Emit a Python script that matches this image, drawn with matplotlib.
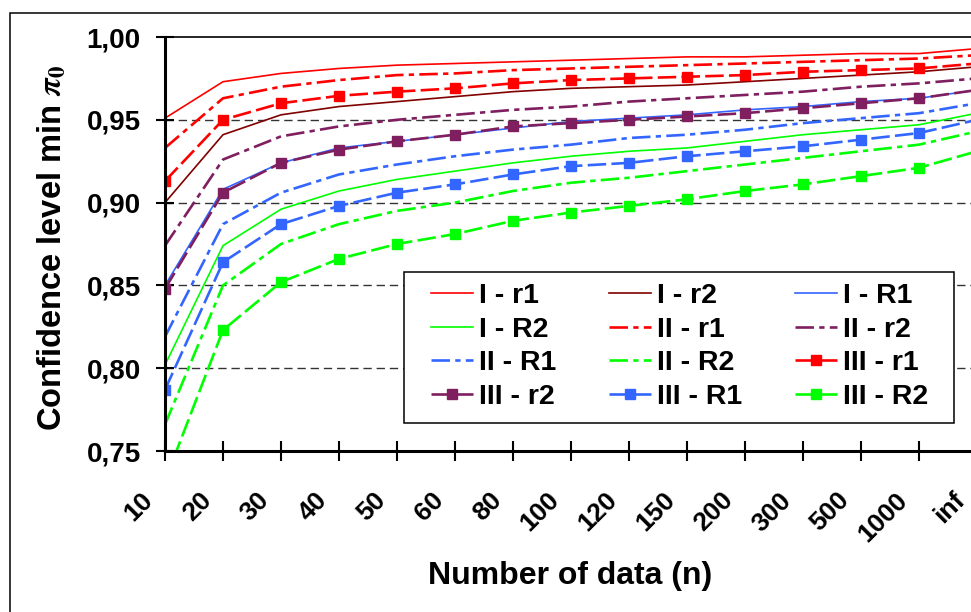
import matplotlib
matplotlib.use("Agg")
import matplotlib.pyplot as plt
from matplotlib.patches import Rectangle
from matplotlib.transforms import ScaledTranslation, blended_transform_factory

plt.rcParams['font.family'] = ['Liberation Sans', 'DejaVu Sans']
plt.rcParams['font.weight'] = 'bold'
plt.rcParams['mathtext.fontset'] = 'stix'

# categories on the x axis (number of data)
n_labels = ['10', '20', '30', '40', '50', '60', '80', '100', '120', '150',
            '200', '300', '500', '1000', 'inf']

# confidence level min pi0
I_r1 = [0.951, 0.973, 0.978, 0.981, 0.983, 0.984, 0.985, 0.986, 0.987, 0.988, 0.988, 0.989, 0.990, 0.990, 0.993]
I_r2 = [0.900, 0.941, 0.953, 0.958, 0.961, 0.964, 0.967, 0.969, 0.970, 0.971, 0.973, 0.975, 0.977, 0.979, 0.982]
I_R1 = [0.850, 0.908, 0.924, 0.933, 0.937, 0.941, 0.945, 0.949, 0.951, 0.953, 0.956, 0.958, 0.961, 0.963, 0.968]
I_R2 = [0.802, 0.874, 0.896, 0.907, 0.914, 0.919, 0.924, 0.928, 0.931, 0.933, 0.937, 0.941, 0.944, 0.947, 0.954]
II_r1 = [0.933, 0.963, 0.970, 0.974, 0.977, 0.978, 0.980, 0.981, 0.982, 0.983, 0.984, 0.985, 0.986, 0.987, 0.989]
II_r2 = [0.874, 0.926, 0.940, 0.946, 0.950, 0.953, 0.956, 0.958, 0.961, 0.963, 0.965, 0.967, 0.970, 0.972, 0.975]
II_R1 = [0.819, 0.887, 0.906, 0.917, 0.923, 0.928, 0.932, 0.935, 0.939, 0.941, 0.944, 0.948, 0.951, 0.954, 0.960]
II_R2 = [0.766, 0.850, 0.875, 0.887, 0.895, 0.900, 0.907, 0.912, 0.915, 0.919, 0.923, 0.927, 0.931, 0.935, 0.943]
III_r1 = [0.913, 0.950, 0.960, 0.9645, 0.967, 0.969, 0.972, 0.974, 0.975, 0.976, 0.977, 0.979, 0.980, 0.981, 0.984]
III_r2 = [0.848, 0.906, 0.924, 0.932, 0.937, 0.941, 0.946, 0.948, 0.950, 0.952, 0.954, 0.957, 0.960, 0.963, 0.968]
III_R1 = [0.787, 0.864, 0.887, 0.898, 0.906, 0.911, 0.917, 0.922, 0.924, 0.928, 0.931, 0.934, 0.938, 0.942, 0.950]
III_R2 = [0.732, 0.823, 0.852, 0.866, 0.875, 0.881, 0.889, 0.894, 0.898, 0.902, 0.907, 0.911, 0.916, 0.921, 0.931]

y_ticks = [0.75, 0.80, 0.85, 0.90, 0.95, 1.00]

# styles
RED = '#ff0000'
DARKRED = '#800000'
BLUE = '#3366ff'
GREEN = '#00ff00'
PURPLE = '#7f1f5f'
SOLID = dict(ls='-', lw=1.2)
DASHDOT = dict(ls=(0, (7, 2, 2, 2)), lw=1.9)
DASHSQ = dict(ls=(0, (7, 2)), lw=1.9, marker='s', ms=7)

series = [
    ('I - r1', I_r1, RED, SOLID),
    ('I - r2', I_r2, DARKRED, SOLID),
    ('I - R1', I_R1, BLUE, SOLID),
    ('I - R2', I_R2, GREEN, SOLID),
    ('II - r1', II_r1, RED, DASHDOT),
    ('II - r2', II_r2, PURPLE, DASHDOT),
    ('II - R1', II_R1, BLUE, DASHDOT),
    ('II - R2', II_R2, GREEN, DASHDOT),
    ('III - r1', III_r1, RED, DASHSQ),
    ('III - r2', III_r2, PURPLE, DASHSQ),
    ('III - R1', III_R1, BLUE, DASHSQ),
    ('III - R2', III_R2, GREEN, DASHSQ),
]

W, H = 971, 612
fig = plt.figure(figsize=(W / 100, H / 100), dpi=100)
# plot area in pixels: left 165, right 977, top 37, bottom 451
ax = fig.add_axes([165 / W, 1 - 451 / H, 812 / W, 414 / H])

x = list(range(len(n_labels)))
handles = []
for name, vals, color, st in series:
    h, = ax.plot(x, vals, color=color, label=name, mec=color, mfc=color, **st)
    handles.append(h)

ax.set_xlim(0, len(n_labels) - 1)
ax.set_ylim(0.75, 1.00)
ax.set_yticks(y_ticks)
ax.set_yticklabels([f'{v:.2f}'.replace('.', ',') for v in y_ticks], fontsize=20, fontweight='bold')
ax.set_xticks(x)
ax.set_xticklabels([])

# rotated category labels, set a little left of their tick as in Excel
lab_tr = blended_transform_factory(ax.transData, ax.transAxes) + \
    ScaledTranslation(-0.07, -0.37, fig.dpi_scale_trans)
for i, lab in zip(x, n_labels):
    ax.text(i, 0, lab, transform=lab_tr, rotation=45, ha='right', va='top',
            fontsize=19, fontweight='bold', clip_on=False)

ax.tick_params(axis='y', direction='inout', length=13, width=1.5, pad=11)
ax.tick_params(axis='x', direction='inout', length=15, width=1.5)

for v in y_ticks[1:-1]:
    ax.axhline(v, color='#333333', lw=1.0, ls=(0, (6, 3.5)), zorder=0.5)

for side in ['left', 'bottom']:
    ax.spines[side].set_linewidth(2.2)
ax.spines['top'].set_linewidth(1.2)
ax.spines['right'].set_linewidth(1.2)

ax.set_xlabel('Number of data (n)', fontsize=23, fontweight='bold')
ax.xaxis.set_label_coords(0.499, -0.266)
ax.xaxis.label.set_va('top')
ax.set_ylabel(r'Confidence level min $\pi_0$', fontsize=23.5, fontweight='bold')
ax.yaxis.set_label_coords(-0.119, 0.49)

# legend box and entries (row-wise order as in the original)
order = [i for c in range(3) for i in range(c, 12, 3)]
box = Rectangle((404 / W, 1 - 423 / H), 550 / W, 151 / H, transform=fig.transFigure,
                facecolor='white', edgecolor='black', lw=1.1, zorder=4)
fig.add_artist(box)
leg = fig.legend([handles[i] for i in order], [series[i][0] for i in order],
                 loc='upper left', bbox_to_anchor=(431 / W, 1 - 283 / H),
                 ncol=3, frameon=False, borderpad=0, borderaxespad=0,
                 handlelength=1.47, handletextpad=0.22, labelspacing=0.27,
                 columnspacing=1.85, prop={'weight': 'bold', 'size': 20.5})
leg.set_zorder(5)

# outer chart border
fig.add_artist(Rectangle((10 / W, -0.5), 2, 1.5 - 12.5 / H, transform=fig.transFigure,
                         fill=False, edgecolor='black', lw=1.1))

fig.savefig('out.png', dpi=100)
